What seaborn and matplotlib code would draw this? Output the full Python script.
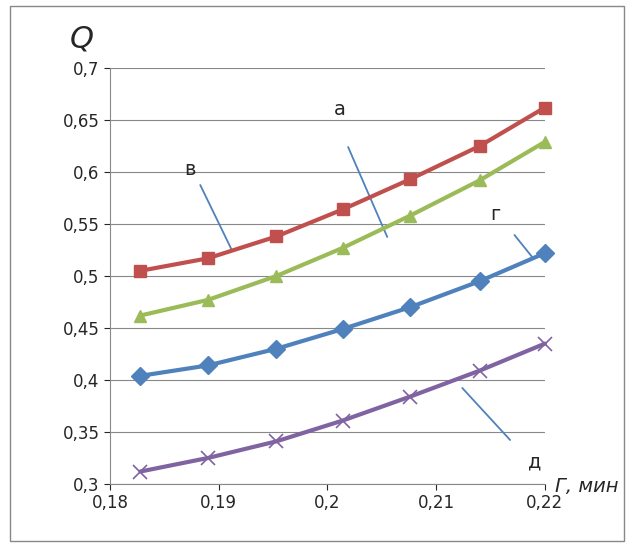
import matplotlib
matplotlib.use("Agg")
import matplotlib.pyplot as plt
import pandas as pd
import seaborn as sns

x_vals = [0.1828, 0.1890, 0.1953, 0.2014, 0.2076, 0.2140, 0.2200]
q_a = [0.505, 0.517, 0.538, 0.564, 0.593, 0.625, 0.662]
q_v = [0.462, 0.477, 0.500, 0.527, 0.558, 0.592, 0.629]
q_g = [0.404, 0.414, 0.430, 0.449, 0.470, 0.495, 0.522]
q_d = [0.312, 0.325, 0.341, 0.361, 0.384, 0.409, 0.435]

series = [
    (q_a, "#C0504D", "s"),
    (q_v, "#9BBB59", "^"),
    (q_g, "#4F81BD", "D"),
    (q_d, "#8064A2", "x"),
]

sns.set_style("white")
plt.rcParams["font.family"] = ["DejaVu Sans"]

fig = plt.figure(figsize=(6.34, 5.52), dpi=100)
ax = fig.add_axes([0.1735, 0.1232, 0.686, 0.7536])

for vals, col, mk in series:
    df = pd.DataFrame({"x": x_vals, "q": vals})
    sns.lineplot(data=df, x="x", y="q", ax=ax, color=col, linewidth=3,
                 marker=mk, markersize=9 if mk != "x" else 10,
                 markeredgecolor=col, markeredgewidth=1 if mk != "x" else 1.2,
                 zorder=3, clip_on=False)

ax.set_xlim(0.18, 0.22)
ax.set_ylim(0.3, 0.7)
ax.set_xticks([0.18, 0.19, 0.2, 0.21, 0.22])
ax.set_xticklabels(["0,18", "0,19", "0,2", "0,21", "0,22"])
yt = [0.3, 0.35, 0.4, 0.45, 0.5, 0.55, 0.6, 0.65, 0.7]
ax.set_yticks(yt)
ax.set_yticklabels([f"{v:g}".replace(".", ",") for v in yt])
ax.tick_params(labelsize=12, length=4, direction="out", left=True, bottom=True)
ax.yaxis.grid(True, color="#888888", linewidth=0.8)
ax.set_xlabel("")
ax.set_ylabel("")
for s in ["top", "right"]:
    ax.spines[s].set_visible(False)
for s in ["left", "bottom"]:
    ax.spines[s].set_color("#888888")

ax.text(0.2011, 0.66, "а", fontsize=14, ha="center", va="center")
ax.plot([0.2019, 0.2055], [0.624, 0.5375], color="#4F81BD", lw=1.3)
ax.text(0.1874, 0.602, "в", fontsize=14, ha="center", va="center")
ax.plot([0.1883, 0.1912], [0.5875, 0.525], color="#4F81BD", lw=1.3)
ax.text(0.2154, 0.559, "г", fontsize=14, ha="center", va="center")
ax.plot([0.2172, 0.2189], [0.5394, 0.5173], color="#4F81BD", lw=1.3)
ax.text(0.2191, 0.321, "д", fontsize=14, ha="center", va="center")
ax.plot([0.2168, 0.2124], [0.3423, 0.3923], color="#4F81BD", lw=1.3)

fig.text(0.11, 0.93, "Q", fontsize=22, style="italic", ha="left", va="center")
fig.text(0.875, 0.118, "Г, мин", fontsize=14, style="italic", ha="left", va="center")
fig.patches.append(plt.Rectangle((0.016, 0.02), 0.968, 0.97, transform=fig.transFigure,
                                 fill=False, edgecolor="#888888", lw=1))

fig.savefig("out.png", dpi=100)
